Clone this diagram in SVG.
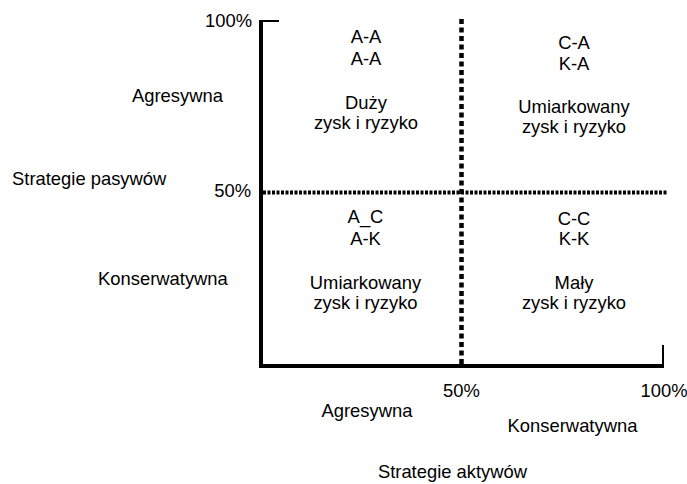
<svg xmlns="http://www.w3.org/2000/svg" width="687" height="484" viewBox="0 0 687 484">
<style>
text{font-family:"Liberation Sans",Arial,sans-serif;font-size:18.4px;fill:#000}
.m{text-anchor:middle}
.e{text-anchor:end}
.axis{stroke:#000;stroke-width:4;fill:none}
.tick{stroke:#000;stroke-width:2;fill:none}
.vdot{stroke:#000;stroke-width:4.5;stroke-dasharray:5 3.5;fill:none}
.hdot{stroke:#000;stroke-width:4;stroke-dasharray:3 1.5;fill:none}
</style>
<rect width="687" height="484" fill="#fff"/>
<g id="axes">
<line class="axis" x1="261" y1="20" x2="261" y2="368"/>
<line class="axis" x1="259" y1="366" x2="664" y2="366"/>
<line class="tick" x1="261" y1="21" x2="279" y2="21"/>
<line class="tick" x1="663" y1="345" x2="663" y2="366"/>
</g>
<g id="connectors">
<line class="vdot" x1="461.5" y1="19" x2="461.5" y2="366"/>
<line class="hdot" x1="263" y1="192.5" x2="668" y2="192.5"/>
</g>
<g id="axis-labels">
<text class="e" x="252" y="27">100%</text>
<text class="e" x="251" y="197">50%</text>
<text x="132" y="102">Agresywna</text>
<text x="12" y="185">Strategie pasywów</text>
<text x="98" y="285">Konserwatywna</text>
<text class="m" x="461.5" y="397">50%</text>
<text class="m" x="664" y="397">100%</text>
<text class="m" x="367" y="417">Agresywna</text>
<text class="m" x="572.5" y="432">Konserwatywna</text>
<text class="m" x="452.5" y="478">Strategie aktywów</text>
</g>
<g id="q-aa">
<text class="m" x="366" y="43">A-A</text>
<text class="m" x="366" y="65">A-A</text>
<text class="m" x="366" y="109">Duży</text>
<text class="m" x="366" y="129">zysk i ryzyko</text>
</g>
<g id="q-ca">
<text class="m" x="574" y="49">C-A</text>
<text class="m" x="574" y="70">K-A</text>
<text class="m" x="574" y="113">Umiarkowany</text>
<text class="m" x="574" y="133">zysk i ryzyko</text>
</g>
<g id="q-ac">
<text class="m" x="365.5" y="223">A_C</text>
<text class="m" x="365.5" y="245">A-K</text>
<text class="m" x="365.5" y="288.5">Umiarkowany</text>
<text class="m" x="365.5" y="308.5">zysk i ryzyko</text>
</g>
<g id="q-cc">
<text class="m" x="574" y="225">C-C</text>
<text class="m" x="574" y="245">K-K</text>
<text class="m" x="574" y="288.5">Mały</text>
<text class="m" x="574" y="308.5">zysk i ryzyko</text>
</g>
</svg>
